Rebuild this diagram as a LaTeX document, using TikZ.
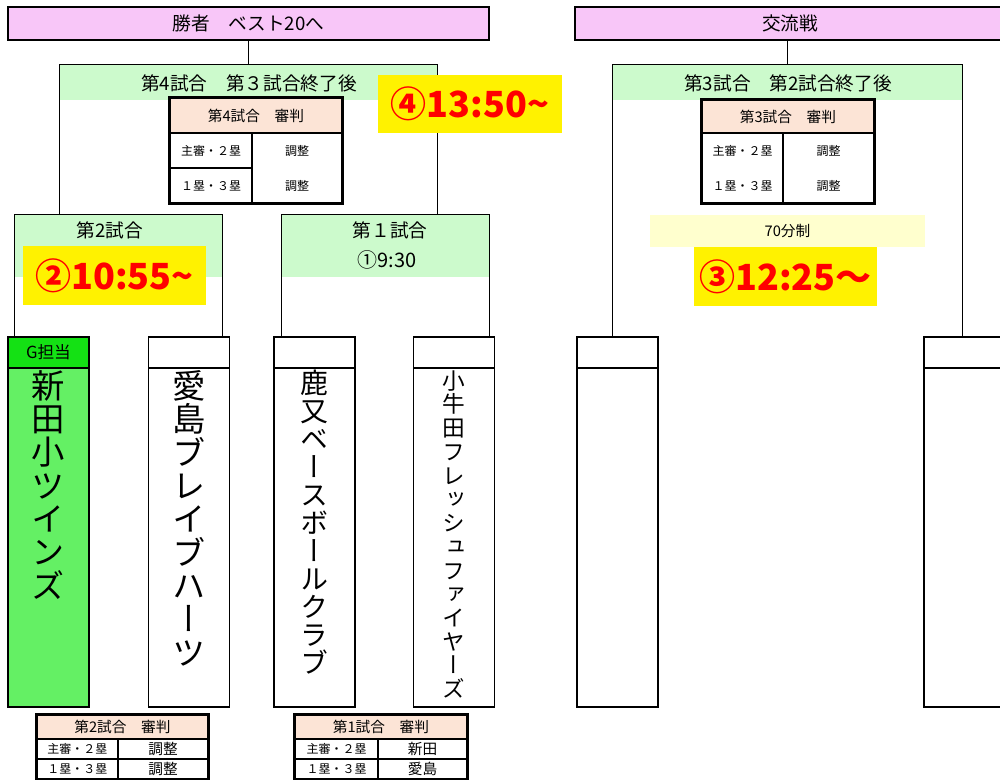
\documentclass[tikz,border=0pt]{standalone}
\usepackage{fontspec}
\setmainfont{Noto Sans CJK JP}
\newfontfamily\tatefont[RawFeature=+vert]{Noto Sans CJK JP}
\usetikzlibrary{positioning}

\definecolor{hdrpink}{RGB}{248,198,248}
\definecolor{bandgreen}{RGB}{204,250,204}
\definecolor{umppeach}{RGB}{252,228,214}
\definecolor{gheadgreen}{RGB}{20,225,20}
\definecolor{gbodygreen}{RGB}{100,240,100}
\definecolor{lightyel}{RGB}{255,255,206}

\tikzset{every picture/.style={line width=0.75pt}}
\tikzset{
  boxsize/.style 2 args={minimum width=#1*0.75pt, minimum height=#2*0.75pt},
  hdrbox/.style={draw, line width=2.2pt, fill=hdrpink, inner sep=0pt, font=\fontsize{14}{16}\selectfont},
  band/.style={fill=bandgreen, inner sep=0pt},
  title/.style={inner sep=0pt, font=\fontsize{14}{16}\selectfont},
  brk/.style={line width=1.1pt},
  umphead/.style={draw, line width=1.5pt, fill=umppeach, inner sep=0pt, font=\fontsize{11}{13}\selectfont},
  umpcell/.style={draw, line width=1.5pt, inner sep=0pt},
  umpsmall/.style={inner sep=0pt, font=\fontsize{9}{11}\selectfont},
  umpname/.style={inner sep=0pt, font=\fontsize{11}{13}\selectfont},
  umpframe/.style={line width=2.2pt},
  timebox/.style={fill=yellow, text=red, inner sep=0pt, font=\bfseries\fontsize{27}{30}\selectfont},
  teamhead/.style={draw, line width=1.1pt, inner sep=0pt, boxsize={81}{31}},
  teambody/.style={draw, line width=1.1pt, inner sep=0pt, boxsize={81}{339}},
  tate/.style={anchor=north, align=center, inner sep=0pt},
}

\begin{document}
\begin{tikzpicture}[x=0.75pt,y=0.75pt,yscale=-1,xscale=1]
\useasboundingbox (0,0) rectangle (1000,780);

% Headers
\node[hdrbox, boxsize={481}{33}] (hdrL) at (248.5,23.5) {勝者　ベスト20へ};
\node[hdrbox, boxsize={430}{33}] (hdrR) at (790,23.5) {交流戦};

% Match bands
\node[band, boxsize={377}{35}] (m4) at (248.5,82.5) {};
\node[band, boxsize={349}{35}] (m3) at (787.5,82.5) {};
\node[band, boxsize={207}{62}] (m2) at (118.5,246) {};
\node[band, boxsize={207}{62}] (m1) at (385.5,246) {};

% Text Node
\node[title] (m4t) at (249,83) {第4試合　第３試合終了後};
\node[title] (m3t) at (788,83) {第3試合　第2試合終了後};
\node[title] (m2t) at (110,230) {第2試合};
\node[title] (m1t) at (390,230) {第１試合};
\node[title, font=\fontsize{15}{17}\selectfont] (m1s) at (387,260) {①9:30};

% Teams
\node[teamhead, fill=gheadgreen, font=\fontsize{12.5}{14}\selectfont] (t1h) at (48.5,352.5) {G担当};
\node[teambody, fill=gbodygreen] (t1b) at (48.5,537.5) {};
\node[teamhead] (t2h) at (189,352.5) {};
\node[teambody] (t2b) at (189,537.5) {};
\node[teamhead] (t3h) at (314.5,352.5) {};
\node[teambody] (t3b) at (314.5,537.5) {};
\node[teamhead] (t4h) at (454,352.5) {};
\node[teambody] (t4b) at (454,537.5) {};
\node[teamhead] (r1h) at (617.5,352.5) {};
\node[teambody] (r1b) at (617.5,537.5) {};
\node[teamhead] (r2h) at (964.5,352.5) {};
\node[teambody] (r2b) at (964.5,537.5) {};

% Team names
\node[tate, below=2pt of t1b.north, font=\tatefont\fontsize{25}{25}\selectfont] (t1n) {新\\田\\小\\ツ\\イ\\ン\\ズ};
\node[tate, below=2pt of t2b.north, font=\tatefont\fontsize{25}{25}\selectfont] (t2n) {愛\\島\\ブ\\レ\\イ\\ブ\\ハ\\ー\\ツ};
\node[tate, below=2pt of t3b.north, font=\tatefont\fontsize{21}{21}\selectfont] (t3n) {鹿\\又\\ベ\\ー\\ス\\ボ\\ー\\ル\\ク\\ラ\\ブ};
\node[tate, below=2pt of t4b.north, font=\tatefont\fontsize{17}{17.8}\selectfont] (t4n) {小\\牛\\田\\フ\\レ\\ッ\\シ\\ュ\\フ\\ァ\\イ\\ヤ\\ー\\ズ};

% Brackets
\draw[brk] (hdrL) -- (m4.north);
\draw[brk] (m4.north west |- m2.north) -- (m4.north west) -- (m4.north east) -- (m4.north east |- m1.north);
\draw[brk] (m2.north west |- t1h.north) -- (m2.north west) -- (m2.north east) -- (m2.north east |- t2h.north);
\draw[brk] (m1.north west |- t3h.north) -- (m1.north west) -- (m1.north east) -- (m1.north east |- t4h.north);
\draw[brk] (hdrR.south -| m3.north) -- (m3.north);
\draw[brk] (m3.north west |- r1h.north) -- (m3.north west) -- (m3.north east) -- (m3.north east |- r2h.north);

% Umpires, 4th match
\node[umphead, boxsize={172}{35}] (u4h) at (256,115.5) {第4試合　審判};
\node[umpcell, boxsize={82}{35}, umpsmall] (u4a) at (211,150.5) {主審・２塁};
\node[umpcell, boxsize={82}{35}, umpsmall] (u4b) at (211,185.5) {１塁・３塁};
\node[umpcell, boxsize={90}{70}] (u4c) at (297,168) {};
\node[umpsmall] (u4c1) at (297,150.5) {調整};
\node[umpsmall] (u4c2) at (297,185.5) {調整};
\draw[umpframe] (u4h.north west) rectangle (u4c.south east);

% Umpires, 3rd match
\node[umphead, boxsize={172}{33}] (u3h) at (788,116.5) {第3試合　審判};
\node[umpcell, boxsize={81}{70}] (u3a) at (742.5,168) {};
\node[umpcell, boxsize={91}{70}] (u3b) at (828.5,168) {};
\node[umpsmall] (u3a1) at (742.5,150.5) {主審・２塁};
\node[umpsmall] (u3a2) at (742.5,185.5) {１塁・３塁};
\node[umpsmall] (u3b1) at (828.5,150.5) {調整};
\node[umpsmall] (u3b2) at (828.5,185.5) {調整};
\draw[umpframe] (u3h.north west) rectangle (u3b.south east);

\node[fill=lightyel, boxsize={275}{32}, inner sep=0pt, font=\fontsize{11}{13}\selectfont] (m3len) at (787.5,231) {70分制};

% Umpires, 2nd match
\node[umphead, boxsize={171}{24}] (b2h) at (122.5,727) {第2試合　審判};
\node[umpcell, boxsize={81}{20}, umpsmall] (b2a) at (77.5,749) {主審・２塁};
\node[umpcell, boxsize={90}{20}, umpname] (b2b) at (163,749) {調整};
\node[umpcell, boxsize={81}{20}, umpsmall] (b2c) at (77.5,769) {１塁・３塁};
\node[umpcell, boxsize={90}{20}, umpname] (b2d) at (163,769) {調整};
\draw[umpframe] (b2h.north west) rectangle (b2d.south east);

% Umpires, 1st match
\node[umphead, boxsize={172}{24}] (b1h) at (381,727) {第1試合　審判};
\node[umpcell, boxsize={83}{20}, umpsmall] (b1a) at (336.5,749) {主審・２塁};
\node[umpcell, boxsize={89}{20}, umpname] (b1b) at (422.5,749) {新田};
\node[umpcell, boxsize={83}{20}, umpsmall] (b1c) at (336.5,769) {１塁・３塁};
\node[umpcell, boxsize={89}{20}, umpname] (b1d) at (422.5,769) {愛島};
\draw[umpframe] (b1h.north west) rectangle (b1d.south east);

% Start times
\node[timebox, boxsize={184}{58}] (tm4) at (470,104) {④13:50{\char"7E}};
\node[timebox, boxsize={183}{59}] (tm2) at (114.5,275.5) {②10:55{\char"7E}};
\node[timebox, boxsize={183}{59}] (tm3) at (785.5,276.5) {③12:25～};

\end{tikzpicture}
\end{document}
